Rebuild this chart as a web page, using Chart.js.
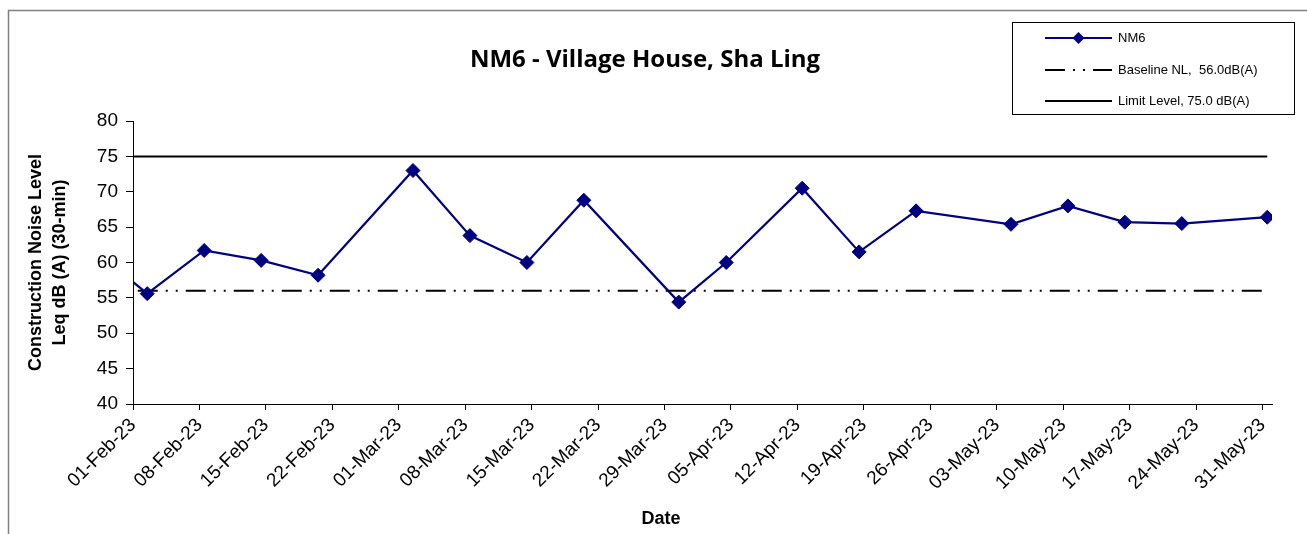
<!DOCTYPE html>
<html>
<head>
<meta charset="utf-8">
<script src="https://cdn.jsdelivr.net/npm/chart.js@4.4.1/dist/chart.umd.min.js"></script>
<style>
  html, body { margin: 0; padding: 0; background: #fff; }
  canvas { display: block; }
</style>
</head>
<body>
<canvas id="chart" width="1307" height="534"></canvas>
<script>
// NM6 measured Leq (30-min), dB(A)
const measureDates = [
  '2023-01-27', '2023-02-02', '2023-02-08', '2023-02-14', '2023-02-20',
  '2023-03-02', '2023-03-08', '2023-03-14', '2023-03-20', '2023-03-30',
  '2023-04-04', '2023-04-12', '2023-04-18', '2023-04-24', '2023-05-04',
  '2023-05-10', '2023-05-16', '2023-05-22', '2023-05-31'
];
const nm6Values = [
  62.2, 55.6, 61.7, 60.3, 58.2,
  73.0, 63.8, 60.0, 68.8, 54.4,
  60.0, 70.5, 61.5, 67.3, 65.4,
  68.0, 65.7, 65.5, 66.4
];

const baselineDates = ['2023-02-01', '2023-05-31'];
const baselineLevel = 56.0;
const limitDates = ['2023-01-31', '2023-05-31'];
const limitLevel = 75.0;

const tickLabels = [
  '01-Feb-23', '08-Feb-23', '15-Feb-23', '22-Feb-23', '01-Mar-23', '08-Mar-23',
  '15-Mar-23', '22-Mar-23', '29-Mar-23', '05-Apr-23', '12-Apr-23', '19-Apr-23',
  '26-Apr-23', '03-May-23', '10-May-23', '17-May-23', '24-May-23', '31-May-23'
];
const seriesLabels = ['NM6', 'Baseline NL,  56.0dB(A)', 'Limit Level, 75.0 dB(A)'];
const chartTitle = 'NM6 - Village House, Sha Ling';
const yTitle = ['Construction Noise Level', 'Leq dB (A) (30-min)'];
const xTitle = 'Date';

const FONT = "'Liberation Sans', Arial, sans-serif";
const NAVY = '#000080';
const startDay = Date.UTC(2023, 1, 1);

// days since 01-Feb-23, point sits in the middle of its day (Excel date axis)
const toDay = (d) => (Date.parse(d) - startDay) / 86400000 + 0.5;

const nm6Points = measureDates.map((d, i) => ({ x: toDay(d), y: nm6Values[i] }));
const baselinePoints = baselineDates.map((d) => ({ x: toDay(d), y: baselineLevel }));
const limitPoints = limitDates.map((d) => ({ x: toDay(d), y: limitLevel }));

const decorPlugin = {
  id: 'decor',
  beforeDraw(chart) {
    const ctx = chart.ctx;
    ctx.save();
    ctx.fillStyle = '#fff';
    ctx.fillRect(0, 0, chart.width, chart.height);
    // outer frame
    ctx.strokeStyle = '#808080';
    ctx.lineWidth = 1.5;
    ctx.beginPath();
    ctx.moveTo(8.5, chart.height);
    ctx.lineTo(8.5, 10.5);
    ctx.lineTo(chart.width, 10.5);
    ctx.stroke();
    ctx.restore();
  },
  afterDraw(chart) {
    const ctx = chart.ctx;
    ctx.save();
    ctx.fillStyle = '#000';
    ctx.textAlign = 'center';
    ctx.textBaseline = 'middle';
    ctx.font = "bold 24px 'Open Sans', sans-serif";
    ctx.fillText(chartTitle, 645, 60);
    ctx.font = 'bold 18px ' + FONT;
    ctx.fillText(xTitle, 661, 519);

    // legend box
    ctx.strokeStyle = '#000';
    ctx.lineWidth = 1;
    ctx.strokeRect(1012.5, 22.5, 282, 92);
    ctx.font = '13px ' + FONT;
    ctx.textAlign = 'left';
    const rowY = [38, 70, 101];
    chart.data.datasets.forEach((ds, i) => {
      const y = rowY[i];
      ctx.strokeStyle = ds.borderColor;
      ctx.lineWidth = ds.borderWidth;
      ctx.setLineDash(ds.borderDash || []);
      ctx.beginPath();
      ctx.moveTo(1045, y);
      ctx.lineTo(1112, y);
      ctx.stroke();
      ctx.setLineDash([]);
      if (ds.pointRadius > 0) {
        ctx.fillStyle = ds.pointBackgroundColor;
        ctx.beginPath();
        ctx.moveTo(1078.5, y - 6);
        ctx.lineTo(1084.5, y);
        ctx.lineTo(1078.5, y + 6);
        ctx.lineTo(1072.5, y);
        ctx.closePath();
        ctx.fill();
      }
      ctx.fillStyle = '#000';
      ctx.fillText(ds.label, 1118, y);
    });
    ctx.restore();
  }
};

new Chart(document.getElementById('chart'), {
  type: 'line',
  data: {
    datasets: [
      {
        label: seriesLabels[0],
        data: nm6Points,
        borderColor: NAVY,
        borderWidth: 2.2,
        pointStyle: 'rectRot',
        pointRadius: 7,
        pointBackgroundColor: NAVY,
        pointBorderColor: NAVY,
        pointBorderWidth: 1,
        tension: 0
      },
      {
        label: seriesLabels[1],
        data: baselinePoints,
        borderColor: '#000',
        borderWidth: 2,
        borderDash: [20, 8, 2, 8, 2, 8],
        pointRadius: 0
      },
      {
        label: seriesLabels[2],
        data: limitPoints,
        borderColor: '#000',
        borderWidth: 2,
        pointRadius: 0
      }
    ]
  },
  options: {
    responsive: false,
    animation: false,
    devicePixelRatio: 1,
    layout: { padding: { top: 121, right: 35, left: 0, bottom: 0 } },
    plugins: {
      legend: { display: false },
      title: { display: false },
      tooltip: { enabled: false }
    },
    scales: {
      x: {
        type: 'linear',
        min: 0,
        max: 120,
        afterFit: (scale) => { scale.height = 130; },
        afterBuildTicks: (scale) => {
          scale.ticks = tickLabels.map((_, i) => ({ value: i * 7 }));
        },
        ticks: {
          autoSkip: false,
          maxRotation: 45,
          minRotation: 45,
          padding: 4,
          color: '#000',
          font: { family: FONT, size: 19 },
          callback: (v, i) => tickLabels[i]
        },
        grid: { drawOnChartArea: false, tickLength: 6, color: '#000' },
        border: { color: '#000', width: 1 }
      },
      y: {
        min: 40,
        max: 80,
        afterFit: (scale) => { scale.width = 133; },
        ticks: {
          stepSize: 5,
          padding: 8,
          color: '#000',
          font: { family: FONT, size: 19 }
        },
        grid: { drawOnChartArea: false, tickLength: 7, color: '#000' },
        border: { color: '#000', width: 1 },
        title: {
          display: true,
          text: yTitle,
          color: '#000',
          font: { family: FONT, size: 18, weight: 'bold', lineHeight: 1.28 },
          padding: { top: 25, bottom: 0 }
        }
      }
    }
  },
  plugins: [decorPlugin]
});
</script>
</body>
</html>
